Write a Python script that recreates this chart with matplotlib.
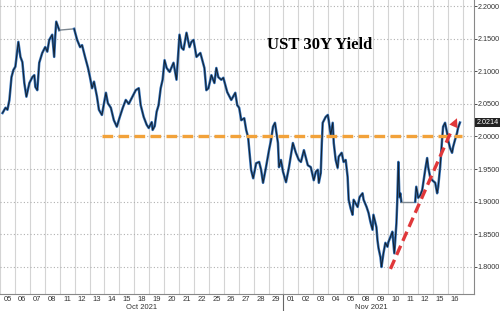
"""
UST 30Y yield, intraday, Oct 5 - Nov 16 2021.
Output: out.png
"""
import numpy as np
import matplotlib.pyplot as plt
import matplotlib.transforms as mtransforms

FIG_PATH = "out.png"

# trading sessions along the x axis (one slot per session)
day_labels = ["05", "06", "07", "08", "11", "12", "13", "14", "15", "18", "19",
              "20", "21", "22", "25", "26", "27", "28", "29",
              "01", "02", "03", "04", "05", "08", "09", "10", "11", "12", "15", "16"]
month_labels = ["Oct 2021", "Nov 2021"]
month_centers = [9.5, 24.9]
month_break = 19

# intraday path: position in sessions (0 = open of Oct 05) and yield
pos = [0.17, 0.37, 0.50, 0.63, 0.77, 0.90, 1.03, 1.23, 1.37, 1.50, 1.63, 1.77,
       1.97, 2.17, 2.30, 2.37, 2.50, 2.63, 2.83, 3.03, 3.17, 3.30, 3.50, 3.63,
       3.70, 3.77, 3.97, 4.97, 5.17, 5.37, 5.50, 5.70, 5.90, 6.03, 6.17, 6.30,
       6.50, 6.63, 6.83, 6.97, 7.10, 7.23, 7.43, 7.63, 7.83, 8.03, 8.23, 8.43,
       8.63, 8.90, 9.10, 9.30, 9.43, 9.63, 9.83, 9.97, 10.17, 10.23, 10.37, 10.50,
       10.63, 10.77, 10.90, 11.03, 11.17, 11.37, 11.63, 11.83, 12.03, 12.17, 12.30, 12.50,
       12.70, 12.83, 12.97, 13.17, 13.30, 13.43, 13.70, 13.83, 13.97, 14.17, 14.37, 14.50,
       14.63, 14.83, 14.97, 15.23, 15.50, 15.77, 15.90, 16.03, 16.17, 16.37, 16.50, 16.63,
       16.83, 16.97, 17.17, 17.37, 17.50, 17.63, 17.83, 18.03, 18.17, 18.30, 18.43, 18.63,
       18.70, 18.83, 18.97, 19.17, 19.37, 19.63, 19.83, 20.03, 20.17, 20.37, 20.63, 20.83,
       21.03, 21.17, 21.30, 21.37, 21.50, 21.57, 21.63, 21.83, 21.97, 22.03, 22.17, 22.30,
       22.37, 22.50, 22.63, 22.70, 22.90, 23.03, 23.17, 23.30, 23.37, 23.50, 23.63, 23.70,
       23.97, 24.10, 24.30, 24.37, 24.57, 24.70, 24.83, 24.97, 25.03, 25.23, 25.30, 25.37,
       25.50, 25.57, 25.70, 25.83, 25.97, 26.03, 26.17, 26.30, 26.37, 26.43, 26.57, 26.63,
       26.70, 26.77, 26.83, 26.90, 27.83, 27.90, 28.03, 28.17, 28.30, 28.50, 28.63, 28.70,
       28.83, 28.97, 29.17, 29.30, 29.37, 29.50, 29.63, 29.70, 29.83, 29.97, 30.03, 30.17,
       30.30, 30.37, 30.50, 30.63, 30.70, 30.83]
yld = [2.036, 2.044, 2.041, 2.056, 2.091, 2.102, 2.107, 2.145, 2.122, 2.114, 2.082, 2.061,
       2.082, 2.091, 2.094, 2.076, 2.071, 2.113, 2.128, 2.137, 2.130, 2.148, 2.156, 2.122,
       2.153, 2.176, 2.163, 2.165, 2.148, 2.137, 2.140, 2.122, 2.105, 2.091, 2.074, 2.084,
       2.061, 2.041, 2.033, 2.051, 2.067, 2.051, 2.044, 2.025, 2.015, 2.030, 2.044, 2.056,
       2.050, 2.062, 2.071, 2.074, 2.048, 2.030, 2.018, 2.013, 2.022, 2.010, 2.016, 2.038,
       2.048, 2.074, 2.087, 2.117, 2.105, 2.099, 2.113, 2.087, 2.156, 2.136, 2.133, 2.159,
       2.137, 2.145, 2.148, 2.122, 2.125, 2.128, 2.105, 2.071, 2.074, 2.094, 2.082, 2.105,
       2.091, 2.087, 2.090, 2.068, 2.056, 2.067, 2.048, 2.044, 2.025, 2.028, 2.010, 1.999,
       1.949, 1.936, 1.959, 1.961, 1.949, 1.929, 1.953, 1.979, 1.995, 2.015, 2.021, 1.990,
       1.953, 1.964, 1.946, 1.930, 1.953, 1.990, 1.975, 1.964, 1.961, 1.979, 1.956, 1.953,
       1.933, 1.946, 1.949, 1.929, 1.944, 1.990, 2.021, 2.030, 2.033, 2.025, 2.002, 2.021,
       1.990, 1.964, 1.952, 1.969, 1.975, 1.961, 1.964, 1.938, 1.903, 1.890, 1.880, 1.903,
       1.892, 1.907, 1.913, 1.903, 1.892, 1.883, 1.869, 1.857, 1.880, 1.861, 1.841, 1.829,
       1.815, 1.800, 1.821, 1.837, 1.831, 1.838, 1.846, 1.854, 1.837, 1.821, 1.867, 1.903,
       1.961, 1.907, 1.913, 1.900, 1.900, 1.923, 1.906, 1.910, 1.918, 1.949, 1.967, 1.953,
       1.938, 1.933, 1.929, 1.913, 1.923, 1.953, 1.995, 2.015, 2.021, 2.005, 1.995, 1.982,
       1.975, 1.984, 1.995, 2.005, 2.013, 2.0214]

last_value = 2.0214
support = 2.0
support_span = (6.83, 30.97)
trend_from = (26.17, 1.797)
trend_to = (30.63, 2.028)

BLUE = "#2f6cb3"
INK = "#14202c"
ORANGE = "#f2a23a"
RED = "#e0383a"
TICK_FONT = "Liberation Sans"


def main():
    fig = plt.figure(figsize=(5.0, 3.11), dpi=100)
    ax = fig.add_axes([0.0, 0.0547, 0.948, 0.9453])

    x = np.array(pos)
    y = np.array(yld)

    # split the path at market holidays; those get a thin connector
    breaks = np.where(np.diff(x) > 0.5)[0]
    start = 0
    for b in list(breaks) + [len(x) - 1]:
        seg = slice(start, b + 1)
        ax.plot(x[seg], y[seg], color=BLUE, lw=1.8, zorder=3)
        ax.plot(x[seg], y[seg], color=INK, lw=0.7, zorder=4)
        if b < len(x) - 1:
            ax.plot(x[b:b + 2], y[b:b + 2], color="#7d8790", lw=1.0, zorder=3)
        start = b + 1

    # 2.00 support line
    ax.plot(support_span, [support, support], color=ORANGE, lw=2.4,
            dashes=(3.2, 1.6), zorder=5)

    # red dashed trend arrow
    frac = 0.9
    mid = (trend_from[0] + frac * (trend_to[0] - trend_from[0]),
           trend_from[1] + frac * (trend_to[1] - trend_from[1]))
    ax.plot([trend_from[0], mid[0]], [trend_from[1], mid[1]], color=RED, lw=2.4,
            dashes=(3.0, 1.6), zorder=6)
    ax.annotate("", xy=trend_to, xytext=mid,
                arrowprops=dict(arrowstyle="-|>", color=RED, lw=0,
                                mutation_scale=16, shrinkA=0, shrinkB=0),
                zorder=6)

    ax.text(21.4, 2.140, "UST 30Y Yield", family="Liberation Serif",
            fontweight="bold", fontsize=12, ha="center", va="center", zorder=7)

    # axes
    ax.set_xlim(0.167, 31.77)
    ax.set_ylim(1.7586, 2.2092)
    ax.yaxis.tick_right()
    yt = np.arange(1.80, 2.2001, 0.05)
    ax.set_yticks(yt)
    ax.set_yticklabels([f"{v:.4f}" for v in yt], family=TICK_FONT)
    ax.tick_params(axis="y", labelsize=5.2, colors="#333333", length=1.8,
                   width=0.6, pad=0.8)

    ax.set_xticks(np.arange(len(day_labels)) + 0.5)
    ax.set_xticklabels(day_labels, family=TICK_FONT)
    ax.set_xticks(np.arange(len(day_labels) + 1), minor=True)
    ax.tick_params(axis="x", which="both", length=0, labelsize=5.5,
                   colors="#333333", pad=1.2)

    ax.grid(axis="x", which="minor", color="#d4d4d4", lw=0.8)
    ax.grid(axis="y", which="major", color="#b0b0b0", lw=0.8, linestyle=(0, (1, 2)))
    ax.set_axisbelow(True)

    for side in ("top", "left"):
        ax.spines[side].set_visible(False)
    for side in ("bottom", "right"):
        ax.spines[side].set_color("#888888")
        ax.spines[side].set_linewidth(0.8)

    # month labels and separator under the axis
    xt = ax.get_xaxis_transform()
    ax.plot([month_break, month_break], [0, -0.06], transform=xt,
            color="#666666", lw=0.8, clip_on=False)
    for c, lab in zip(month_centers, month_labels):
        ax.text(c, -0.047, lab, transform=xt, ha="center", va="center",
                fontsize=5.5, family=TICK_FONT, color="#333333")

    # last value tag on the right axis
    tr = mtransforms.blended_transform_factory(ax.transAxes, ax.transData)
    ax.text(1.005, last_value, f"{last_value:.4f}", transform=tr, ha="left",
            va="center", fontsize=5.2, family=TICK_FONT, color="white",
            bbox=dict(facecolor="#222222", edgecolor="none", pad=0.9))

    fig.savefig(FIG_PATH, dpi=100)
    plt.close(fig)


if __name__ == "__main__":
    main()
